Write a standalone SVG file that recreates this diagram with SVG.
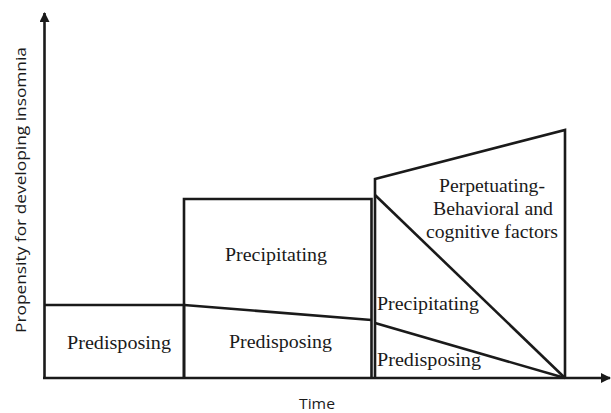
<svg xmlns="http://www.w3.org/2000/svg" width="611" height="413" viewBox="0 0 611 413">
<defs>
<style>
.ln{fill:none;stroke:#1a1a1a;stroke-width:2.6;stroke-linejoin:miter}
.t{font-family:"Liberation Serif","DejaVu Serif",serif;font-size:18px;fill:#1a1a1a}
.ax{font-family:"Open Sans","Liberation Sans",sans-serif;font-size:14px;fill:#1a1a1a}
</style>
<marker id="ah" viewBox="0 0 10 10" refX="9" refY="5" markerWidth="10" markerHeight="10" markerUnits="userSpaceOnUse" orient="auto">
<path d="M0,0 L10,5 L0,10 Z" fill="#1a1a1a"/>
</marker>
</defs>
<rect width="611" height="413" fill="#fff"/>
<g id="connectors">
<line class="ln" x1="44.5" y1="379" x2="44.5" y2="13" marker-end="url(#ah)"/>
<line class="ln" x1="43" y1="378" x2="610" y2="378" marker-end="url(#ah)"/>
</g>
<g id="stage1">
<polyline class="ln" points="44.5,305 184,305 184,378"/>
<text class="t" x="119" y="349" text-anchor="middle" textLength="104" lengthAdjust="spacingAndGlyphs">Predisposing</text>
</g>
<g id="stage2">
<polyline class="ln" points="184,378 184,199 371.5,199 371.5,378"/>
<line class="ln" x1="184" y1="305" x2="371.5" y2="320"/>
<text class="t" x="276" y="261" text-anchor="middle" textLength="102" lengthAdjust="spacingAndGlyphs">Precipitating</text>
<text class="t" x="280.5" y="348" text-anchor="middle" textLength="103" lengthAdjust="spacingAndGlyphs">Predisposing</text>
</g>
<g id="stage3">
<polyline class="ln" points="375,378 375,179 565,130 565,378"/>
<line class="ln" x1="375" y1="195" x2="565" y2="378"/>
<line class="ln" x1="375" y1="323" x2="565" y2="378"/>
<text class="t" x="492" y="192" text-anchor="middle" textLength="106" lengthAdjust="spacingAndGlyphs">Perpetuating-</text>
<text class="t" x="493" y="215" text-anchor="middle" textLength="120" lengthAdjust="spacingAndGlyphs">Behavioral and</text>
<text class="t" x="492" y="238" text-anchor="middle" textLength="132" lengthAdjust="spacingAndGlyphs">cognitive factors</text>
<text class="t" x="377" y="310" textLength="102" lengthAdjust="spacingAndGlyphs">Precipitating</text>
<text class="t" x="377" y="366" textLength="104" lengthAdjust="spacingAndGlyphs">Predisposing</text>
</g>
<g id="labels">
<text class="ax" x="317" y="409" text-anchor="middle" textLength="36" lengthAdjust="spacingAndGlyphs">Time</text>
<text class="ax" transform="translate(26,190) rotate(-90)" text-anchor="middle" textLength="286" lengthAdjust="spacingAndGlyphs">Propensity for developing insomnia</text>
</g>
</svg>
